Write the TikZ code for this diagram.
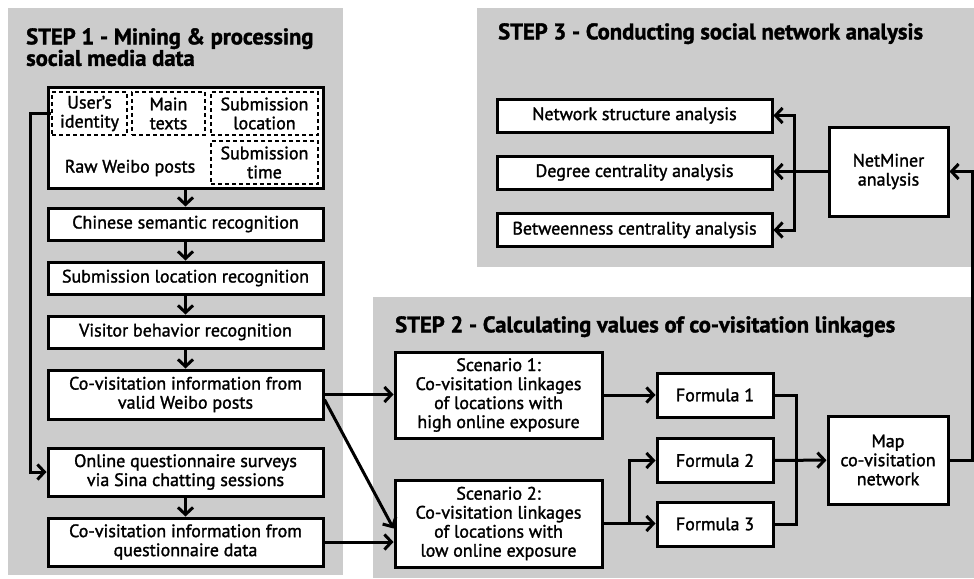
\documentclass[tikz,border=0pt]{standalone}
\usepackage{fontspec}
\setmainfont{PT Sans}[RawFeature={embolden=1.5}]
\usetikzlibrary{arrows.meta,calc}
\definecolor{panelgray}{RGB}{204,204,204}
\tikzset{
  panel/.style={fill=panelgray},
  title/.style={anchor=north west, align=left, inner sep=0pt, font=\fontsize{22.6}{21.5}\selectfont\bfseries},
  box/.style={draw, line width=3pt, fill=white, align=center, inner sep=1pt, font=\fontsize{18}{19}\selectfont},
  dashbox/.style={draw, dash pattern=on 4pt off 3pt, line width=1.6pt, align=center, inner sep=1pt, minimum height=43pt, font=\fontsize{18}{19}\selectfont},
  link/.style={line width=3pt},
  arr/.style={link, -{Straight Barb[length=7pt,width=15pt]}}
}
\begin{document}
\begin{tikzpicture}[x=1pt,y=-1pt]
  \useasboundingbox (0,0) rectangle (974,578);
  % panels
  \fill[panel] (8,8) rectangle (343,575);
  \fill[panel] (477,8) rectangle (974,267);
  \fill[panel] (373,297) rectangle (974,578);
  \node[title] (t1) at (26,28) {STEP 1 - Mining \& processing\\social media data};
  \node[title] (t3) at (498,23) {STEP 3 - Conducting social network analysis};
  \node[title] (t2) at (395,316) {STEP 2 - Calculating values of co-visitation linkages};
  % step 1
  \node[box, minimum width=275pt, minimum height=101pt] (raw) at (185.5,137.5) {};
  \node[dashbox, minimum width=75pt] (usr) at (89.5,113.5) {User’s\\identity};
  \node[dashbox, minimum width=73pt] (txt) at (168.5,113.5) {Main\\texts};
  \node[dashbox, minimum width=107pt] (loc) at (264.5,113.5) {Submission\\location};
  \node[dashbox, minimum width=107pt] (tim) at (264.5,162.5) {Submission\\time};
  \node[font=\fontsize{18}{19}\selectfont] (rawlbl) at (130,168) {Raw Weibo posts};
  \foreach \n/\y/\h/\txt in {chn/224/32/{Chinese semantic recognition},
      sub/278/32/{Submission location recognition},
      vis/332/32/{Visitor behavior recognition},
      covw/394.5/49/{Co-visitation information from\\valid Weibo posts},
      onl/472/48/{Online questionnaire surveys\\via Sina chatting sessions},
      covq/542/48/{Co-visitation information from\\questionnaire data}}
    \node[box, minimum width=275pt, minimum height=\h pt] (\n) at (185.5,\y) {\txt};
  \foreach \a/\b in {raw/chn, chn/sub, sub/vis, vis/covw, onl/covq}
    \draw[arr] (\a) -- (\b);
  \draw[arr] (usr.west) -- ++(-21,0) |- (onl.west);
  % step 2
  \node[box, minimum width=207pt, minimum height=86pt] (sc1) at (498.5,395) {Scenario 1:\\Co-visitation linkages\\of locations with\\high online exposure};
  \node[box, minimum width=207pt, minimum height=87pt] (sc2) at (498.5,523.5) {Scenario 2:\\Co-visitation linkages\\of locations with\\low online exposure};
  \foreach \i/\y in {1/395, 2/460.5, 3/524}
    \node[box, minimum width=116pt, minimum height=44pt] (f\i) at (715,\y) {Formula \i};
  \node[box, minimum width=120pt, minimum height=88pt] (map) at (888,460) {Map\\co-visitation\\network};
  \draw[arr] (covw.east) -- (covw.east -| sc1.west);
  \draw[arr] ([yshift=-5pt]covw.east) -- ([yshift=-5pt]sc2.west);
  \draw[arr] (covq.east) -- (covq.east -| sc2.west);
  \draw[arr] (sc1.east) -- (sc1.east -| f1.west);
  \draw[arr] (sc2.east) -- (sc2.east -| f3.west);
  \coordinate (br) at ($(sc2.east)+(26,0)$);
  \draw[arr] (br) |- (f2.west);
  \coordinate (jn) at (796,460);
  \draw[link] (f1.east) -| (jn) |- (f3.east);
  \draw[arr] (f2) -- (map);
  % step 3
  \foreach \n/\y/\txt in {net/115.5/Network structure analysis, deg/172.5/Degree centrality analysis, btw/230/Betweenness centrality analysis}
    \node[box, minimum width=275pt, minimum height=33pt] (\n) at (634.5,\y) {\txt};
  \node[box, minimum width=119pt, minimum height=89pt] (nm) at (888.5,171.5) {NetMiner\\analysis};
  \draw[arr] (nm.west) -- (nm.west -| deg.east);
  \coordinate (bk) at (794,172.5);
  \draw[arr] (bk) |- (net.east);
  \draw[arr] (bk) |- (btw.east);
  \draw[arr] (map.east) -- ++(23,0) |- (nm.east);
\end{tikzpicture}
\end{document}
